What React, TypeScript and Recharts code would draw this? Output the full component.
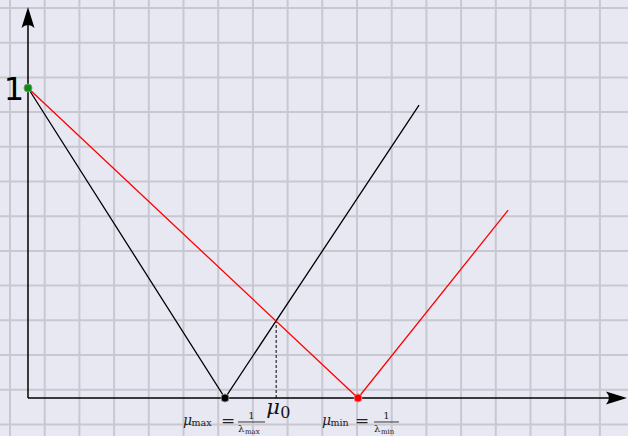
import React from "react";
import { ComposedChart, Line, XAxis, YAxis, CartesianGrid, ReferenceLine, ReferenceDot } from "recharts";

// V-shaped curves |1 - mu * lambda| for lambda_max (black) and lambda_min (red)
const blackX = [0, 0.597, 1.185];
const blackY = [1, 0, 0.945];
const redX = [0, 1, 1.455];
const redY = [1, 0, 0.606];

const muMax = 0.597;
const muMin = 1;
const mu0 = 0.752;
const mu0Y = 0.252;

const xDomain = [-0.0848, 1.8182];
const yDomain = [-0.1226, 1.2839];

const blackData = blackX.map((x, i) => ({ x, y: blackY[i] }));
const redData = redX.map((x, i) => ({ x, y: redY[i] }));

const W = 628;
const H = 436;
const GRID = 34.7;
const vGrid = Array.from({ length: 19 }, (_, i) => 10 + GRID * i);
const hGrid = Array.from({ length: 13 }, (_, i) => 8 + GRID * i);

const mathFont = "'DejaVu Serif', 'Liberation Serif', serif";

function AxisArrow(props: any) {
  const { x1, y1, x2, y2 } = props;
  const ang = Math.atan2(y2 - y1, x2 - x1);
  const L = 21, hw = 6.5, back = 15;
  const c = Math.cos(ang), s = Math.sin(ang);
  const bx = x2 - L * c, by = y2 - L * s;
  const ix = x2 - back * c, iy = y2 - back * s;
  const p1 = `${bx - hw * s},${by + hw * c}`;
  const p2 = `${bx + hw * s},${by - hw * c}`;
  return (
    <g>
      <line x1={x1} y1={y1} x2={ix} y2={iy} stroke="#000" strokeWidth={1.5} />
      <path d={`M${x2},${y2} L${p1} Q${ix},${iy} ${p2} Z`} fill="#000" />
    </g>
  );
}

function Frac({ x, y, sub }: { x: number; y: number; sub: string }) {
  // "mu_sub = 1 / lambda_sub" starting at x, baseline y
  const isMax = sub === "max";
  const eqX = x + (isMax ? 38 : 33);
  const f0 = x + (isMax ? 55 : 52);
  const f1 = x + (isMax ? 82 : 77);
  return (
    <g fontFamily={mathFont} fill="#222">
      <text x={x} y={y} fontSize={14} fontStyle="italic">μ</text>
      <text x={x + 8.5} y={y + 1} fontSize={9.5}>{sub}</text>
      <text x={eqX} y={y + 1} fontSize={17}>=</text>
      <text x={(f0 + f1) / 2} y={y - 6} fontSize={10} textAnchor="middle">1</text>
      <line x1={f0} x2={f1} y1={y - 3} y2={y - 3} stroke="#222" strokeWidth={0.9} />
      <text x={f0} y={y + 7} fontSize={10}>λ</text>
      <text x={f0 + 7} y={y + 9.5} fontSize={7}>{sub}</text>
    </g>
  );
}

export default function App() {
  return (
    <div style={{ position: "absolute", left: 0, top: 0, width: W, height: H }}>
      <ComposedChart width={W} height={H} margin={{ top: 0, right: 0, bottom: 0, left: 0 }}>
        <CartesianGrid
          fill="#e8e8f2"
          stroke="#c8c8d2"
          strokeWidth={2}
          verticalPoints={vGrid}
          horizontalPoints={hGrid}
        />
        <XAxis type="number" dataKey="x" domain={xDomain} allowDataOverflow hide />
        <YAxis type="number" dataKey="y" domain={yDomain} allowDataOverflow hide />
        <ReferenceLine
          segment={[{ x: 0, y: 0 }, { x: 1.815, y: 0 }]}
          ifOverflow="visible"
          shape={AxisArrow}
        />
        <ReferenceLine
          segment={[{ x: 0, y: 0 }, { x: 0, y: 1.261 }]}
          ifOverflow="visible"
          shape={AxisArrow}
        />
        <ReferenceLine
          segment={[{ x: mu0, y: 0 }, { x: mu0, y: mu0Y }]}
          stroke="#000"
          strokeWidth={1}
          strokeDasharray="3 2"
        />
        <Line data={blackData} dataKey="y" type="linear" stroke="#000" strokeWidth={1.3} dot={false} activeDot={false} isAnimationActive={false} />
        <Line data={redData} dataKey="y" type="linear" stroke="#ff0000" strokeWidth={1.3} dot={false} activeDot={false} isAnimationActive={false} />
        <ReferenceDot
          x={muMax}
          y={0}
          r={4}
          fill="#000"
          stroke="#888"
          strokeWidth={1}
          label={(p: any) => {
            const vb = p.viewBox;
            const cx = vb.x + vb.width / 2;
            const cy = vb.y + vb.height / 2;
            return <Frac x={cx - 42} y={cy + 27} sub="max" />;
          }}
        />
        <ReferenceDot
          x={muMin}
          y={0}
          r={4}
          fill="#ff0000"
          stroke="#e08080"
          strokeWidth={1}
          label={(p: any) => {
            const vb = p.viewBox;
            const cx = vb.x + vb.width / 2;
            const cy = vb.y + vb.height / 2;
            return <Frac x={cx - 36} y={cy + 27} sub="min" />;
          }}
        />
        <ReferenceDot
          x={mu0}
          y={0}
          r={0}
          fill="none"
          stroke="none"
          label={(p: any) => {
            const vb = p.viewBox;
            const cx = vb.x + vb.width / 2;
            const cy = vb.y + vb.height / 2;
            return (
              <g fontFamily={mathFont} fill="#111">
                <text x={cx - 10} y={cy + 16} fontSize={21} fontStyle="italic">μ</text>
                <text x={cx + 4} y={cy + 20} fontSize={16}>0</text>
              </g>
            );
          }}
        />
        <ReferenceDot
          x={0}
          y={1}
          r={4}
          fill="#108a10"
          stroke="#6f9f6f"
          strokeWidth={1}
          label={(p: any) => {
            const vb = p.viewBox;
            const cx = vb.x + vb.width / 2;
            const cy = vb.y + vb.height / 2;
            return (
              <text x={cx - 4} y={cy + 12} fontSize={32} textAnchor="end" fontFamily="'DejaVu Sans', sans-serif" fill="#000">1</text>
            );
          }}
        />
      </ComposedChart>
    </div>
  );
}
